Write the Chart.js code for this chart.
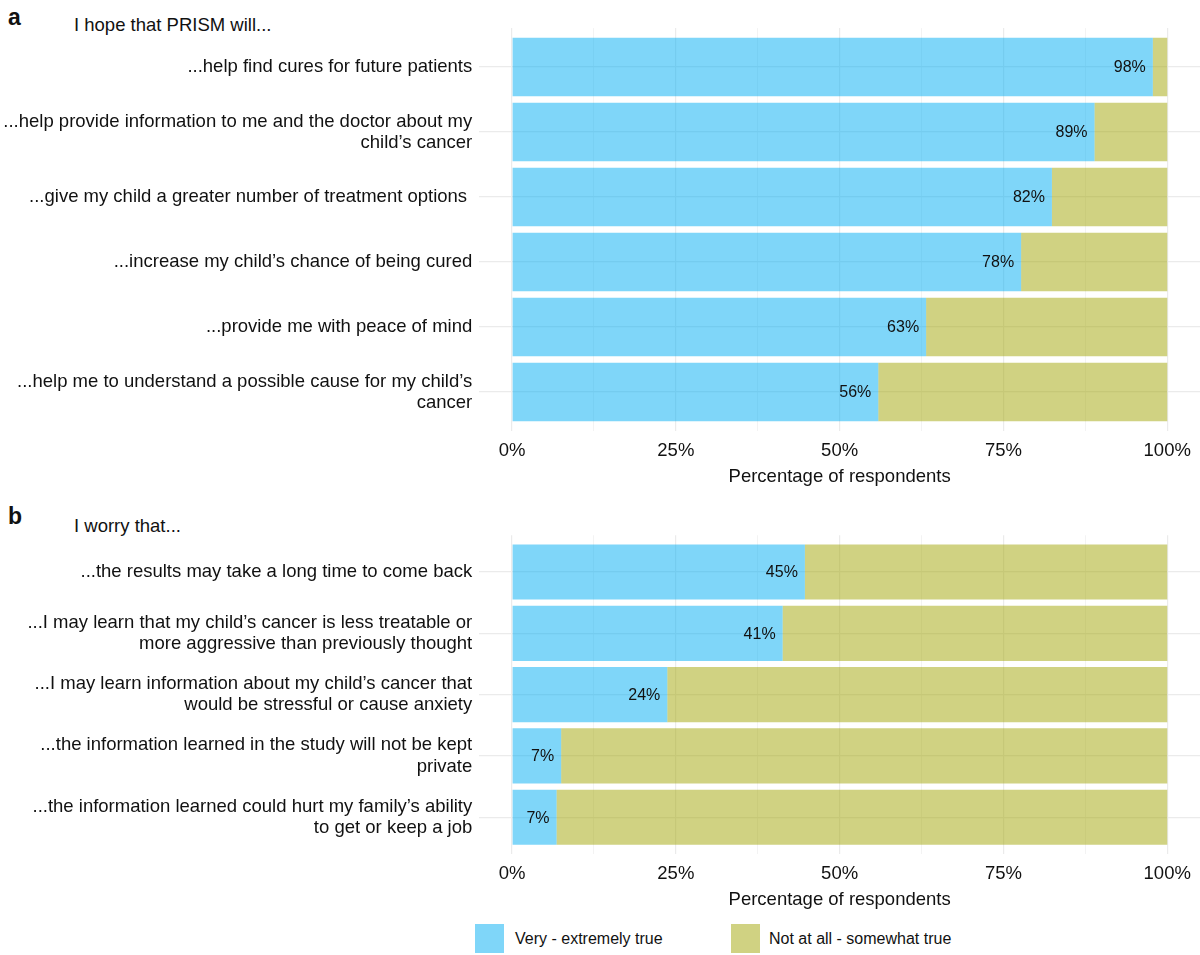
<!DOCTYPE html>
<html>
<head>
<meta charset="utf-8">
<script src="https://cdn.jsdelivr.net/npm/chart.js@4"></script>
<style>
  html, body { margin: 0; padding: 0; background: #fff; }
  body { width: 1200px; height: 955px; position: relative; overflow: hidden;
         font-family: "Liberation Sans", Arial, Helvetica, sans-serif; color: #111; }
  .abs { position: absolute; }
  .tag { font-weight: bold; font-size: 23px; line-height: 1; }
  .sub { font-size: 18.5px; line-height: 1; }
  .key { width: 29px; height: 29px; }
  .ktxt { font-size: 16px; line-height: 1; }
</style>
</head>
<body>
<div class="abs tag" style="left:8px;top:6px;">a</div>
<div class="abs sub" style="left:74px;top:16px;">I hope that PRISM will...</div>
<div class="abs tag" style="left:8px;top:505px;">b</div>
<div class="abs sub" style="left:74px;top:517px;">I worry that...</div>

<canvas id="cA" class="abs" width="1200" height="495" style="left:0;top:0;"></canvas>
<canvas id="cB" class="abs" width="1200" height="423" style="left:0;top:495px;"></canvas>

<div class="abs key" style="left:475px;top:924px;background:#7fd6f9;"></div>
<div class="abs ktxt" style="left:515px;top:931px;">Very - extremely true</div>
<div class="abs key" style="left:731px;top:924px;background:#d0d282;"></div>
<div class="abs ktxt" style="left:769px;top:931px;">Not at all - somewhat true</div>

<script>
// ---------- DATA ----------
const seriesNames = ["Very - extremely true", "Not at all - somewhat true"];

const categoriesA = [
  ["...help find cures for future patients"],
  ["...help provide information to me and the doctor about my", "child\u2019s cancer"],
  ["...give my child a greater number of treatment options "],
  ["...increase my child\u2019s chance of being cured"],
  ["...provide me with peace of mind"],
  ["...help me to understand a possible cause for my child\u2019s", "cancer"]
];
const veryTrueA = [97.8, 88.9, 82.4, 77.7, 63.2, 55.9];
const notTrueA  = [2.2, 11.1, 17.6, 22.3, 36.8, 44.1];
const labelsA   = ["98%", "89%", "82%", "78%", "63%", "56%"];

const categoriesB = [
  ["...the results may take a long time to come back"],
  ["...I may learn that my child\u2019s cancer is less treatable or", "more aggressive than previously thought"],
  ["...I may learn information about my child\u2019s cancer that", "would be stressful or cause anxiety"],
  ["...the information learned in the study will not be kept", "private"],
  ["...the information learned could hurt my family\u2019s ability", "to get or keep a job"]
];
const veryTrueB = [44.7, 41.3, 23.7, 7.5, 6.8];
const notTrueB  = [55.3, 58.7, 76.3, 92.5, 93.2];
const labelsB   = ["45%", "41%", "24%", "7%", "7%"];

const xTicks = [0, 12.5, 25, 37.5, 50, 62.5, 75, 87.5, 100];

// ---------- STYLE ----------
const FONT = '"Liberation Sans", Arial, Helvetica, sans-serif';
const BLUE = 'rgba(0,173,243,0.5)';
const OLIVE = 'rgba(161,165,5,0.5)';
const GRID = '#ebebeb';

function makeChart(canvasId, cats, v1, v2, txt, padTop) {
  const n = cats.length;
  const dataVery = v1.map((v, i) => ({ x: v, y: i }));
  const dataNot = v2.map((v, i) => ({ x: v, y: i }));

  const valueLabels = {
    id: 'valueLabels',
    afterDatasetsDraw(chart) {
      const ctx = chart.ctx;
      const meta = chart.getDatasetMeta(0);
      ctx.save();
      ctx.font = '16px ' + FONT;
      ctx.fillStyle = '#111';
      ctx.textAlign = 'right';
      ctx.textBaseline = 'middle';
      meta.data.forEach((bar, i) => {
        ctx.fillText(txt[i], bar.x - 7, bar.y + 1);
      });
      ctx.restore();
    }
  };

  return new Chart(document.getElementById(canvasId), {
    type: 'bar',
    data: {
      datasets: [
        { label: seriesNames[0], data: dataVery, backgroundColor: BLUE, borderWidth: 0,
          barPercentage: 0.9, categoryPercentage: 1.0 },
        { label: seriesNames[1], data: dataNot, backgroundColor: OLIVE, borderWidth: 0,
          barPercentage: 0.9, categoryPercentage: 1.0 }
      ]
    },
    options: {
      indexAxis: 'y',
      responsive: false,
      animation: false,
      layout: { padding: { top: padTop, left: 0, right: 0, bottom: 0 } },
      plugins: { legend: { display: false }, tooltip: { enabled: true } },
      scales: {
        x: {
          type: 'linear', stacked: true, min: -5, max: 105, offset: false,
          afterBuildTicks(scale) { scale.ticks = xTicks.map(v => ({ value: v })); },
          afterFit(scale) { scale.height = 64; },
          border: { display: false },
          grid: {
            drawTicks: false, offset: false,
            color: GRID,
            lineWidth: c => (c.tick && c.tick.value % 25 === 0) ? 1.2 : 0.6
          },
          ticks: {
            padding: 9, maxRotation: 0, autoSkip: false,
            color: '#111', font: { family: FONT, size: 18.5 },
            callback: v => (v % 25 === 0) ? v + '%' : ''
          },
          title: {
            display: true, text: 'Percentage of respondents', color: '#111',
            font: { family: FONT, size: 18.5 }, padding: { top: 0, bottom: 7 }
          }
        },
        y: {
          type: 'linear', stacked: true, reverse: true, min: -0.6, max: n - 1 + 0.6,
          offset: false,
          afterBuildTicks(scale) { scale.ticks = cats.map((c, i) => ({ value: i })); },
          afterFit(scale) { scale.width = 479.25; },
          border: { display: false },
          grid: { drawTicks: false, offset: false, color: GRID, lineWidth: 1.2 },
          ticks: {
            padding: 7, autoSkip: false, color: '#111',
            font: { family: FONT, size: 18.5, lineHeight: 1.14 },
            callback: v => cats[v]
          }
        }
      }
    },
    plugins: [valueLabels]
  });
}

makeChart('cA', categoriesA, veryTrueA, notTrueA, labelsA, 28);
makeChart('cB', categoriesB, veryTrueB, notTrueB, labelsB, 40.25);
</script>
</body>
</html>
